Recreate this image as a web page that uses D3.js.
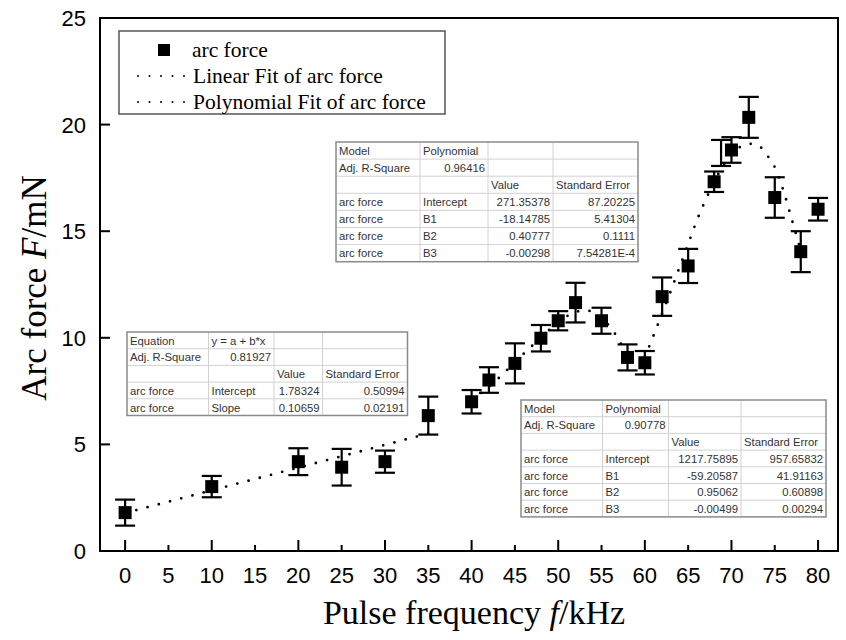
<!DOCTYPE html>
<html><head><meta charset="utf-8">
<script src="https://cdn.jsdelivr.net/npm/d3@7"></script>
<style>body{margin:0;background:#fff}svg{display:block}</style>
</head><body>
<svg id="c" width="846" height="640"></svg>
<script>
// ---- data ----
const freq  = [0,10,20,25,30,35,40,42,45,48,50,52,55,58,60,62,65,68,70,72,75,78,80];
const force = [1.80,3.02,4.19,3.93,4.19,6.35,7.00,8.02,8.80,9.98,10.80,11.65,10.80,9.08,8.83,11.93,13.37,17.32,18.81,20.34,16.58,14.04,16.03];
const forceErr = [0.61,0.50,0.63,0.86,0.52,0.89,0.55,0.60,0.94,0.62,0.45,0.93,0.61,0.61,0.55,0.90,0.80,0.48,0.60,0.96,0.95,0.96,0.53];
const extraBarX = [68.8];
const extraBarY = [18.67];
const extraBarErr = [0.61];
const linFitX = [0, 35];
const linFitY = [1.78, 5.51];
const poly1X = [40,42,44,46,48,50,52,53,54,56,57,58];
const poly1Y = [7.10,7.70,8.45,9.25,10.0,10.75,11.2,11.3,11.2,10.5,9.9,9.1];
const poly2X = [60,61,62,63,64,65,66,67,68,69,70,71,72,73,74,75,76,77,78];
const poly2Y = [9.1,10.1,11.15,12.2,13.3,14.4,15.5,16.45,17.3,18.05,18.6,18.95,19.1,19.05,18.62,18.0,16.9,15.5,14.1];
const xTicks = [0,5,10,15,20,25,30,35,40,45,50,55,60,65,70,75,80];
const yTicks = [0,5,10,15,20,25];
const legendLabels = ["arc force","Linear Fit of arc force","Polynomial Fit of arc force"];
const table1 = [["Model","Polynomial","",""],["Adj. R-Square","0.96416","",""],["","","Value","Standard Error"],
  ["arc force","Intercept","271.35378","87.20225"],["arc force","B1","-18.14785","5.41304"],
  ["arc force","B2","0.40777","0.1111"],["arc force","B3","-0.00298","7.54281E-4"]];
const table2 = [["Equation","y = a + b*x","",""],["Adj. R-Square","0.81927","",""],["","","Value","Standard Error"],
  ["arc force","Intercept","1.78324","0.50994"],["arc force","Slope","0.10659","0.02191"]];
const table3 = [["Model","Polynomial","",""],["Adj. R-Square","0.90778","",""],["","","Value","Standard Error"],
  ["arc force","Intercept","1217.75895","957.65832"],["arc force","B1","-59.20587","41.91163"],
  ["arc force","B2","0.95062","0.60898"],["arc force","B3","-0.00499","0.00294"]];

// ---- layout ----
const svg = d3.select("#c");
const L = 100, R = 838, T = 18, B = 551;
const x = d3.scaleLinear().domain([-2.9, 82.3]).range([L, R]);
const y = d3.scaleLinear().domain([0, 25]).range([B, T]);

// frame
svg.append("rect").attr("x", L).attr("y", T).attr("width", R - L).attr("height", B - T)
  .attr("fill", "none").attr("stroke", "#000").attr("stroke-width", 2);

// x axis ticks (inside)
const gx = svg.append("g");
gx.selectAll("line").data(xTicks).join("line")
  .attr("x1", d => x(d)).attr("x2", d => x(d))
  .attr("y1", B).attr("y2", d => d % 10 === 0 ? B - 11 : B - 6)
  .attr("stroke", "#000").attr("stroke-width", 2);
gx.selectAll("text").data(xTicks).join("text")
  .attr("x", d => x(d)).attr("y", 583).attr("text-anchor", "middle")
  .attr("font-family", "Liberation Sans, Arial, sans-serif").attr("font-size", 22)
  .text(d => d);

// y axis ticks
const gy = svg.append("g");
gy.selectAll("line").data(yTicks).join("line")
  .attr("x1", L).attr("x2", L + 10)
  .attr("y1", d => y(d)).attr("y2", d => y(d))
  .attr("stroke", "#000").attr("stroke-width", 2);
gy.selectAll("text").data(yTicks).join("text")
  .attr("x", 86).attr("y", d => y(d) + 8).attr("text-anchor", "end")
  .attr("font-family", "Liberation Sans, Arial, sans-serif").attr("font-size", 22)
  .text(d => d);

// axis titles
const xt = svg.append("text").attr("x", 474).attr("y", 624).attr("text-anchor", "middle")
  .attr("font-family", "Liberation Serif, Times New Roman, serif").attr("font-size", 34);
xt.append("tspan").text("Pulse frequency  ");
xt.append("tspan").attr("font-style", "italic").text("f");
xt.append("tspan").text("/kHz");
const yt = svg.append("text").attr("transform", "translate(46,288) rotate(-90)").attr("text-anchor", "middle")
  .attr("font-family", "Liberation Serif, Times New Roman, serif").attr("font-size", 35);
yt.append("tspan").text("Arc force  ");
yt.append("tspan").attr("font-style", "italic").text("F");
yt.append("tspan").text("/mN");

// tables
function drawTable(rows, x0, y0, widths, rh) {
  const g = svg.append("g");
  const W = d3.sum(widths), H = rows.length * rh;
  g.append("rect").attr("x", x0).attr("y", y0).attr("width", W).attr("height", H).attr("fill", "#fff");
  for (let i = 1; i < rows.length; i++)
    g.append("line").attr("x1", x0).attr("x2", x0 + W).attr("y1", y0 + i * rh).attr("y2", y0 + i * rh)
      .attr("stroke", "#d2d2d2").attr("stroke-width", 1);
  let cx = x0;
  const starts = widths.map(w => { const s = cx; cx += w; return s; });
  for (let j = 1; j < widths.length; j++)
    g.append("line").attr("x1", starts[j]).attr("x2", starts[j]).attr("y1", y0).attr("y2", y0 + H)
      .attr("stroke", "#d2d2d2").attr("stroke-width", 1);
  g.append("rect").attr("x", x0).attr("y", y0).attr("width", W).attr("height", H)
    .attr("fill", "none").attr("stroke", "#8a8a8a").attr("stroke-width", 1.5);
  rows.forEach((r, i) => r.forEach((t, j) => {
    if (!t) return;
    const num = /^-?[0-9.]+(E-?[0-9]+)?$/.test(t);
    g.append("text")
      .attr("x", num ? starts[j] + widths[j] - 3 : starts[j] + 3)
      .attr("y", y0 + i * rh + 12.7)
      .attr("text-anchor", num ? "end" : "start")
      .attr("font-family", "Liberation Sans, Arial, sans-serif").attr("font-size", 11.3)
      .attr("fill", "#333").text(t);
  }));
}
drawTable(table1, 336, 142, [84, 68, 65, 85], 17.1);
drawTable(table2, 127, 332, [81.5, 65.5, 48.5, 85], 16.7);
drawTable(table3, 521, 400, [81.5, 66, 72.5, 85], 16.7);

// fit lines (dotted)
const line = d3.line().x(d => x(d[0])).y(d => y(d[1])).curve(d3.curveMonotoneX);
function dotted(xs, ys) {
  svg.append("path").datum(xs.map((v, i) => [v, ys[i]])).attr("d", line)
    .attr("fill", "none").attr("stroke", "#000").attr("stroke-width", 2.8)
    .attr("stroke-linecap", "round").attr("stroke-dasharray", "0 11.6");
}
dotted(linFitX, linFitY);
dotted(poly1X, poly1Y);
dotted(poly2X, poly2Y);

// error bars
function errBars(xs, ys, es) {
  const g = svg.append("g").attr("stroke", "#000").attr("stroke-width", 2.2);
  xs.forEach((xv, i) => {
    const px = x(xv), top = y(ys[i] + es[i]), bot = y(ys[i] - es[i]);
    g.append("line").attr("x1", px).attr("x2", px).attr("y1", top).attr("y2", bot);
    g.append("line").attr("x1", px - 10).attr("x2", px + 10).attr("y1", top).attr("y2", top);
    g.append("line").attr("x1", px - 10).attr("x2", px + 10).attr("y1", bot).attr("y2", bot);
  });
}
errBars(extraBarX, extraBarY, extraBarErr);
errBars(freq, force, forceErr);

// markers
svg.append("g").selectAll("rect").data(freq).join("rect")
  .attr("x", (d, i) => x(d) - 6.5).attr("y", (d, i) => y(force[i]) - 6.5)
  .attr("width", 13).attr("height", 13).attr("fill", "#000");

// legend
const lg = svg.append("g");
lg.append("rect").attr("x", 119).attr("y", 31).attr("width", 326).attr("height", 83)
  .attr("fill", "#fff").attr("stroke", "#555").attr("stroke-width", 1.5);
lg.append("rect").attr("x", 158).attr("y", 44).attr("width", 12).attr("height", 12).attr("fill", "#000");
[76, 102].forEach(yy => lg.append("line").attr("x1", 138).attr("x2", 184.5).attr("y1", yy).attr("y2", yy)
  .attr("stroke", "#000").attr("stroke-width", 2).attr("stroke-linecap", "round").attr("stroke-dasharray", "0 11.5"));
legendLabels.forEach((t, i) => lg.append("text").attr("x", i === 0 ? 192 : 193).attr("y", [57, 83, 109][i])
  .attr("font-family", "Liberation Serif, Times New Roman, serif").attr("font-size", 21.5).text(t));
</script>
</body></html>
